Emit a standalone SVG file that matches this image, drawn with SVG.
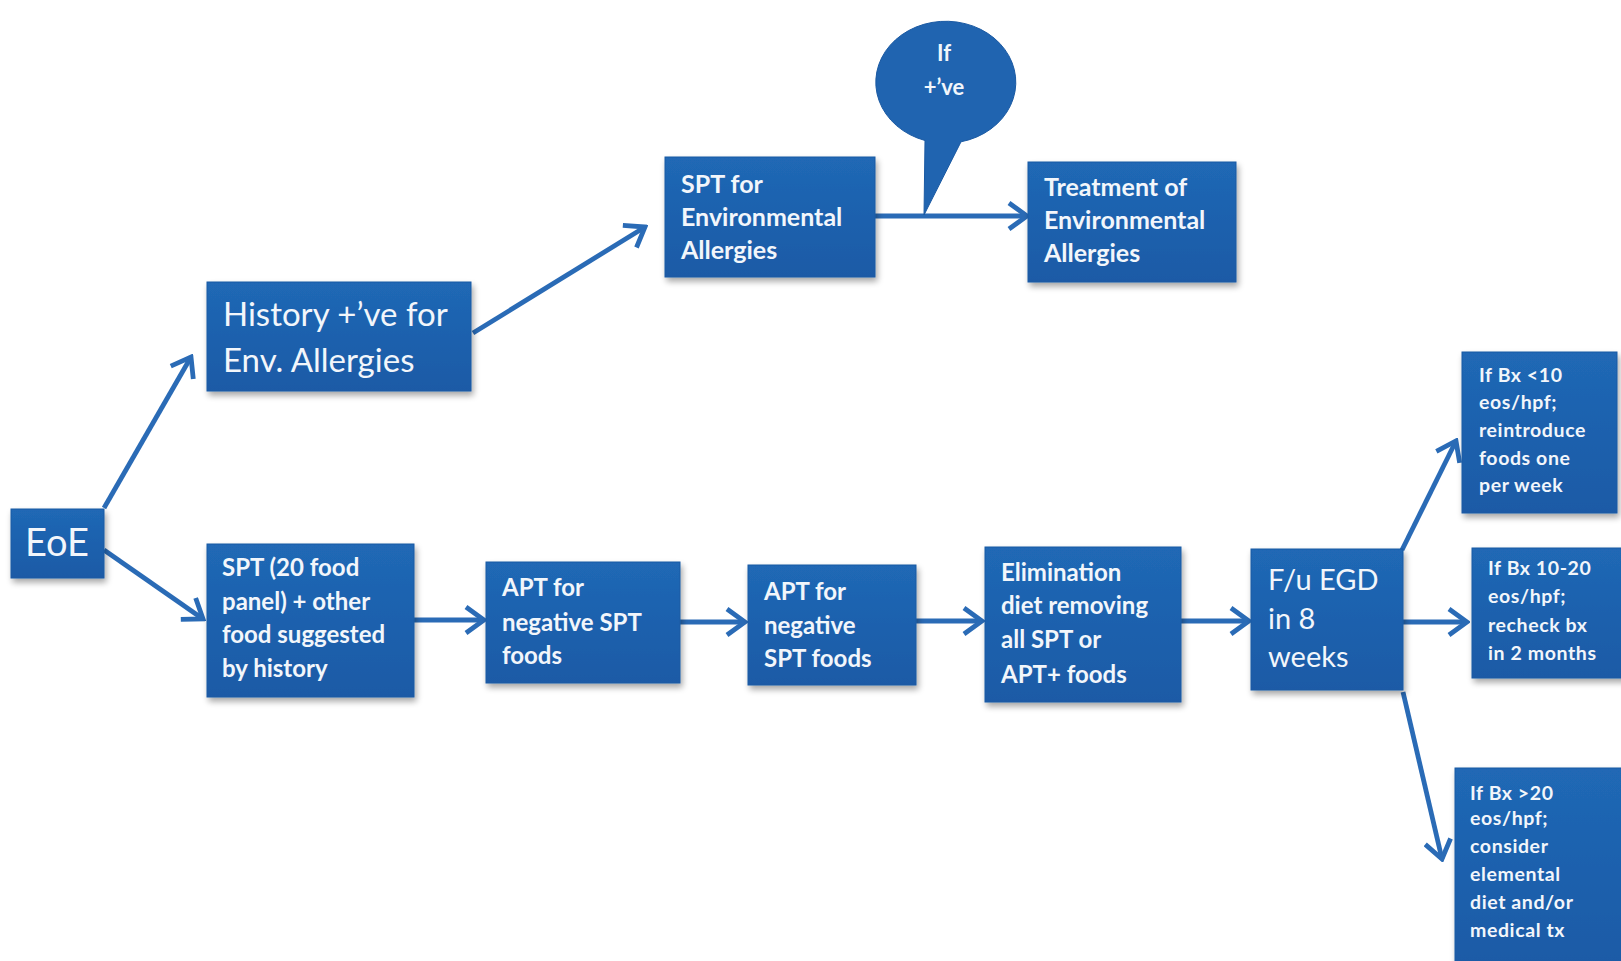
<svg xmlns="http://www.w3.org/2000/svg" width="1621" height="961" viewBox="0 0 1621 961">
<defs>
<linearGradient id="bg" x1="0" y1="0" x2="0" y2="1">
<stop offset="0" stop-color="#2068b5"/>
<stop offset="1" stop-color="#1a5aa6"/>
</linearGradient>
<filter id="sh" x="-10%" y="-10%" width="125%" height="130%">
<feGaussianBlur in="SourceAlpha" stdDeviation="3"/>
<feOffset dx="2" dy="4" result="b"/>
<feComponentTransfer><feFuncA type="linear" slope="0.35"/></feComponentTransfer>
<feMerge><feMergeNode/><feMergeNode in="SourceGraphic"/></feMerge>
</filter>
<marker id="ah" viewBox="0 0 24 30" refX="21" refY="15" markerWidth="24" markerHeight="30" markerUnits="userSpaceOnUse" orient="auto">
<path d="M3,2 L21,15 L3,28" fill="none" stroke="#2a6bb6" stroke-width="4.8" stroke-linejoin="miter"/>
</marker>
</defs>
<style>
.box{fill:url(#bg);stroke:#1b5aa3;stroke-width:1;filter:url(#sh)}
.t{fill:#f2f6fb;font-family:Lato,"Open Sans",sans-serif}
.b{font-weight:700}
.m{font-weight:700;font-size:24px}
.s{font-weight:700;font-size:19.5px;letter-spacing:0.6px}
.c{stroke:#2a6bb6;stroke-width:4.8;fill:none;marker-end:url(#ah)}
</style>
<rect width="1621" height="961" fill="#ffffff"/>
<g id="connectors">
<line class="c" x1="104" y1="508" x2="191" y2="357"/>
<line class="c" x1="104" y1="550" x2="203" y2="619"/>
<line class="c" x1="473" y1="333" x2="645" y2="227"/>
<line class="c" x1="875" y1="216" x2="1027" y2="216"/>
<line class="c" x1="414" y1="620" x2="484" y2="620"/>
<line class="c" x1="680" y1="622" x2="745" y2="622"/>
<line class="c" x1="916" y1="621" x2="982" y2="621"/>
<line class="c" x1="1181" y1="621" x2="1249" y2="621"/>
<line class="c" x1="1402" y1="550" x2="1456" y2="441"/>
<line class="c" x1="1403" y1="622" x2="1467" y2="622"/>
<line class="c" x1="1403" y1="692" x2="1442" y2="859"/>
</g>
<g id="eoe">
<rect class="box" x="11" y="509" width="93" height="69"/>
<text class="t" x="25" y="556" font-size="38">EoE</text>
</g>
<g id="history">
<rect class="box" x="207" y="282" width="264" height="109"/>
<text class="t" x="223" y="326" font-size="33">History +’ve for</text>
<text class="t" x="223" y="372" font-size="33">Env. Allergies</text>
</g>
<g id="spt-env">
<rect class="box" x="665" y="157" width="210" height="120"/>
<text class="t b" x="681" y="193" font-size="25">SPT for</text>
<text class="t b" x="681" y="226" font-size="25">Environmental</text>
<text class="t b" x="681" y="259" font-size="25">Allergies</text>
</g>
<g id="callout">
<path d="M925,140.5 A70,61 0 1 1 961,141.8 L924,215 Z" fill="#2064b0" stroke="#1b5aa3" stroke-width="1"/>
<text class="t b" x="944" y="61" font-size="22" text-anchor="middle">If</text>
<text class="t b" x="944" y="95" font-size="22" text-anchor="middle">+’ve</text>
</g>
<g id="treatment">
<rect class="box" x="1028" y="162" width="208" height="120"/>
<text class="t b" x="1044" y="196" font-size="25">Treatment of</text>
<text class="t b" x="1044" y="229" font-size="25">Environmental</text>
<text class="t b" x="1044" y="262" font-size="25">Allergies</text>
</g>
<g id="spt-food">
<rect class="box" x="207" y="544" width="207" height="153"/>
<text class="t m" x="222" y="576">SPT (20 food</text>
<text class="t m" x="222" y="610">panel) + other</text>
<text class="t m" x="222" y="643">food suggested</text>
<text class="t m" x="222" y="677">by history</text>
</g>
<g id="apt1">
<rect class="box" x="486" y="562" width="194" height="121"/>
<text class="t m" x="502" y="596">APT for</text>
<text class="t m" x="502" y="631">negative SPT</text>
<text class="t m" x="502" y="664">foods</text>
</g>
<g id="apt2">
<rect class="box" x="748" y="565" width="168" height="120"/>
<text class="t m" x="764" y="600">APT for</text>
<text class="t m" x="764" y="634">negative</text>
<text class="t m" x="764" y="667">SPT foods</text>
</g>
<g id="elimination">
<rect class="box" x="985" y="547" width="196" height="155"/>
<text class="t m" x="1001" y="581">Elimination</text>
<text class="t m" x="1001" y="614">diet removing</text>
<text class="t m" x="1001" y="648">all SPT or</text>
<text class="t m" x="1001" y="683">APT+ foods</text>
</g>
<g id="followup">
<rect class="box" x="1251" y="549" width="152" height="141"/>
<text class="t" x="1268" y="590" font-size="29">F/u EGD</text>
<text class="t" x="1268" y="629" font-size="29">in 8</text>
<text class="t" x="1268" y="667" font-size="29">weeks</text>
</g>
<g id="result-low">
<rect class="box" x="1462" y="352" width="155" height="161"/>
<text class="t s" x="1479" y="382">If Bx &lt;10</text>
<text class="t s" x="1479" y="409">eos/hpf;</text>
<text class="t s" x="1479" y="437">reintroduce</text>
<text class="t s" x="1479" y="465">foods one</text>
<text class="t s" x="1479" y="492">per week</text>
</g>
<g id="result-mid">
<rect class="box" x="1472" y="548" width="160" height="130"/>
<text class="t s" x="1488" y="575">If Bx 10-20</text>
<text class="t s" x="1488" y="603">eos/hpf;</text>
<text class="t s" x="1488" y="632">recheck bx</text>
<text class="t s" x="1488" y="660">in 2 months</text>
</g>
<g id="result-high">
<rect class="box" x="1455" y="768" width="175" height="200"/>
<text class="t s" x="1470" y="800">If Bx &gt;20</text>
<text class="t s" x="1470" y="825">eos/hpf;</text>
<text class="t s" x="1470" y="853">consider</text>
<text class="t s" x="1470" y="881">elemental</text>
<text class="t s" x="1470" y="909">diet and/or</text>
<text class="t s" x="1470" y="937">medical tx</text>
</g>
</svg>
